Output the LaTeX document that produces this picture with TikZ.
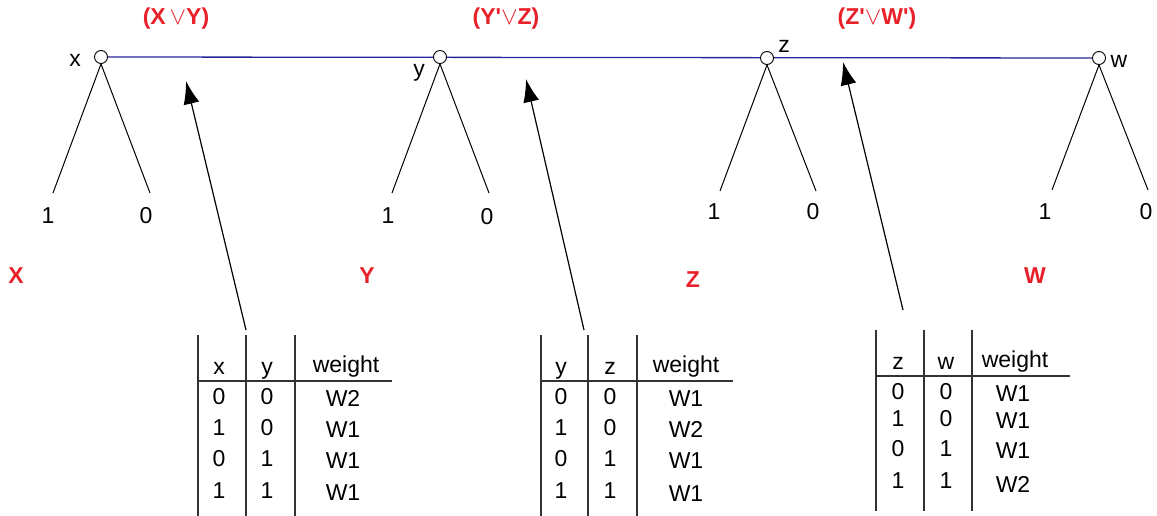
\documentclass[tikz,border=0pt]{standalone}
\usepackage{fontspec}
\setmainfont{Liberation Sans}
\usetikzlibrary{arrows.meta}
\definecolor{lblred}{HTML}{E8202A}
\definecolor{chainblue}{HTML}{26269A}
\newcommand\sq{\XeTeXglyph\XeTeXglyphindex"quotesingle"\relax}
\newcommand\orv{$\vee$}
\begin{document}
\begin{tikzpicture}[x=1pt,y=-1pt,
  txt/.style={inner sep=0pt,font=\fontsize{23}{26}\selectfont},
  tb/.style={inner sep=0pt,anchor=base,font=\fontsize{23}{26}\selectfont},
  red/.style={inner sep=0pt,text=lblred,font=\fontsize{23}{26}\selectfont\bfseries},
  var/.style={circle,draw,fill=white,inner sep=0pt,minimum size=13pt,line width=0.9pt},
  branch/.style={line width=1pt},
  chain/.style={chainblue,line width=1.3pt},
  ptr/.style={line width=1.2pt,-{Latex[length=23pt,width=16pt]}},
  rule/.style={line width=1.3pt,black!80}]
\useasboundingbox (0,0) rectangle (1157,516);

% chain line
\coordinate (cx) at (101,57);
\coordinate (cw) at (1099,58);
\draw[chain] (cx) -- (cw);

% variable nodes
\node[var] (nx) at (101,57) {};
\node[var] (ny) at (440,57) {};
\node[var] (nz) at (767,58) {};
\node[var] (nw) at (1099,58) {};
\node[txt] (lx) at (75,60) {x};
\node[txt] (ly) at (419,73) {y};
\node[txt] (lz) at (784,46) {z};
\node[txt] (lw) at (1119,61) {w};

% branches
\coordinate (x1) at (53,193);  \coordinate (x0) at (150,193);
\coordinate (y1) at (392,193); \coordinate (y0) at (489,193);
\coordinate (z1) at (720,191); \coordinate (z0) at (816,191);
\coordinate (w1) at (1052,190);\coordinate (w0) at (1148,190);
\draw[branch] (nx.south) -- (x1); \draw[branch] (nx.south) -- (x0);
\draw[branch] (ny.south) -- (y1); \draw[branch] (ny.south) -- (y0);
\draw[branch] (nz.south) -- (z1); \draw[branch] (nz.south) -- (z0);
\draw[branch] (nw.south) -- (w1); \draw[branch] (nw.south) -- (w0);
\node[txt] (tx1) at (48,216) {1};   \node[txt] (tx0) at (146,216) {0};
\node[txt] (ty1) at (388,216) {1};  \node[txt] (ty0) at (487,217) {0};
\node[txt] (tz1) at (714,212) {1};  \node[txt] (tz0) at (813,212) {0};
\node[txt] (tw1) at (1045,212) {1}; \node[txt] (tw0) at (1146,212) {0};

% red labels
\node[red] (c1) at (176,19) {(X\,\orv Y)};
\node[red] (c2) at (506,19) {(Y\sq\orv Z)};
\node[red] (c3) at (877,19) {(Z\sq\orv W\sq)};
\node[red] (bX) at (16,276) {X};
\node[red] (bY) at (367,276) {Y};
\node[red] (bZ) at (693,280) {Z};
\node[red] (bW) at (1035,276) {W};

% pointers
\coordinate (a1s) at (246,330); \coordinate (a1e) at (186,81);
\coordinate (a2s) at (584,330); \coordinate (a2e) at (526,79);
\coordinate (a3s) at (903,310); \coordinate (a3e) at (843,62);
\draw[ptr] (a1s) -- (a1e);
\draw[ptr] (a2s) -- (a2e);
\draw[ptr] (a3s) -- (a3e);

% table 1
\draw[rule] (198,335) -- (198,516);
\draw[rule] (246,335) -- (246,516);
\draw[rule] (295,335) -- (295,516);
\draw[rule] (198,381) -- (392,381);
\node[tb] (t1h1) at (219,374) {x};
\node[tb] (t1h2) at (267,374) {y};
\node[tb] (t1h3) at (346,372) {weight};
\node[tb] (t1a1) at (219,404) {0}; \node[tb] (t1a2) at (267,404) {0}; \node[tb] (t1a3) at (343,406) {W2};
\node[tb] (t1b1) at (219,435) {1}; \node[tb] (t1b2) at (267,435) {0}; \node[tb] (t1b3) at (343,437) {W1};
\node[tb] (t1c1) at (219,466) {0}; \node[tb] (t1c2) at (267,466) {1}; \node[tb] (t1c3) at (343,468) {W1};
\node[tb] (t1d1) at (219,498) {1}; \node[tb] (t1d2) at (267,498) {1}; \node[tb] (t1d3) at (343,500) {W1};

% table 2
\draw[rule] (541,335) -- (541,516);
\draw[rule] (588,335) -- (588,516);
\draw[rule] (637,335) -- (637,516);
\draw[rule] (541,381) -- (733,381);
\node[tb] (t2h1) at (561,374) {y};
\node[tb] (t2h2) at (610,374) {z};
\node[tb] (t2h3) at (686,372) {weight};
\node[tb] (t2a1) at (561,404) {0}; \node[tb] (t2a2) at (610,404) {0}; \node[tb] (t2a3) at (686,406) {W1};
\node[tb] (t2b1) at (561,435) {1}; \node[tb] (t2b2) at (610,435) {0}; \node[tb] (t2b3) at (686,437) {W2};
\node[tb] (t2c1) at (561,466) {0}; \node[tb] (t2c2) at (610,466) {1}; \node[tb] (t2c3) at (686,468) {W1};
\node[tb] (t2d1) at (561,498) {1}; \node[tb] (t2d2) at (610,498) {1}; \node[tb] (t2d3) at (686,501) {W1};

% table 3
\draw[rule] (876,330) -- (876,511);
\draw[rule] (924,330) -- (924,511);
\draw[rule] (972,330) -- (972,511);
\draw[rule] (876,376) -- (1070,376);
\node[tb] (t3h1) at (898,369) {z};
\node[tb] (t3h2) at (946,369) {w};
\node[tb] (t3h3) at (1015,367) {weight};
\node[tb] (t3a1) at (898,399) {0}; \node[tb] (t3a2) at (946,399) {0}; \node[tb] (t3a3) at (1013,401) {W1};
\node[tb] (t3b1) at (898,426) {1}; \node[tb] (t3b2) at (946,426) {0}; \node[tb] (t3b3) at (1013,428) {W1};
\node[tb] (t3c1) at (898,456) {0}; \node[tb] (t3c2) at (946,456) {1}; \node[tb] (t3c3) at (1013,458) {W1};
\node[tb] (t3d1) at (898,488) {1}; \node[tb] (t3d2) at (946,488) {1}; \node[tb] (t3d3) at (1013,492) {W2};
\end{tikzpicture}
\end{document}
